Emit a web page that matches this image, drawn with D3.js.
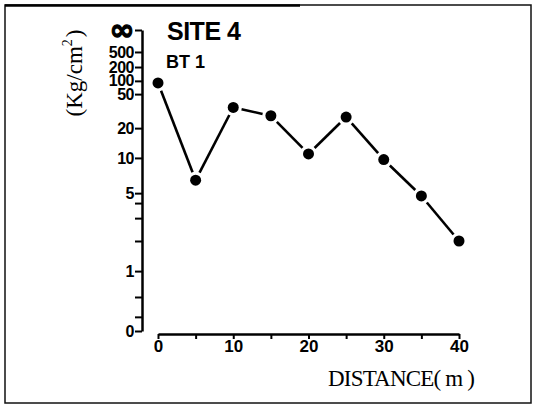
<!DOCTYPE html>
<html>
<head>
<meta charset="utf-8">
<script src="https://cdn.jsdelivr.net/npm/d3@7"></script>
<style>
  body { margin: 0; background: #fff; }
  svg { display: block; }
</style>
</head>
<body>
<div id="chart"></div>
<script>
// data
var distance = [0, 5, 10, 15, 20, 25, 30, 35, 40];
var strength = [90, 6.5, 35, 28, 11, 27, 9.7, 4.7, 2];

// y axis is a non uniform scale, 0 at the bottom and infinity at the top
var yTickValues = [0, 0.2, 0.5, 1, 2, 3, 4, 5, 10, 20, 50, 100, 200, 500, Infinity];
var yTickLabels = ["0", "", "", "1", "", "", "", "5", "10", "20", "50", "100", "200", "500", "\u221e"];
var xTickValues = [0, 5, 10, 15, 20, 25, 30, 35, 40];
var xTickLabels = ["0", "", "10", "", "20", "", "30", "", "40"];

// where each y tick sits on the axis (0 = bottom, 1 = top)
var yTickFrac = [0, 0.047, 0.113, 0.199, 0.299, 0.375, 0.425, 0.458, 0.575, 0.674, 0.787, 0.831, 0.877, 0.927, 1];

var W = 534, H = 405;
var yTop = 30, yBottom = 331, yAxisX = 142;
var xAxisY = 334;

var svg = d3.select("#chart")
  .append("svg")
    .attr("width", W)
    .attr("height", H);

// frame
svg.append("rect")
  .attr("x", 5).attr("y", 5)
  .attr("width", 526).attr("height", 398)
  .attr("fill", "none")
  .attr("stroke", "#111")
  .attr("stroke-width", 1.5);
svg.append("line")
  .attr("x1", 5).attr("x2", 300).attr("y1", 5.5).attr("y2", 5.5)
  .attr("stroke", "#000").attr("stroke-width", 2.5);

// transform values so the piecewise scale is smooth between ticks
function tr(v) { return v === Infinity ? 3.2 : Math.log10(v + 1); }

var y = d3.scaleLinear()
  .domain(yTickValues.map(tr))
  .range(yTickFrac.map(function (f) { return yBottom - f * (yBottom - yTop); }));

var x = d3.scaleLinear()
  .domain([0, 40])
  .range([158, 459]);

// y axis
var yAxis = svg.append("g")
  .attr("transform", "translate(" + yAxisX + ",0)")
  .call(d3.axisLeft(y)
    .tickValues(yTickValues.map(tr))
    .tickSize(7)
    .tickSizeOuter(0)
    .tickPadding(1)
    .tickFormat(function (d, i) { return yTickLabels[i]; }));
yAxis.select(".domain").attr("stroke", "#000").attr("stroke-width", 2.5);
yAxis.selectAll(".tick line").attr("stroke", "#000").attr("stroke-width", 2);
yAxis.selectAll(".tick text")
  .attr("fill", "#000")
  .style("font-family", "'Liberation Sans', Arial, sans-serif")
  .style("font-weight", "bold")
  .style("font-size", "16px")
  .style("letter-spacing", "-0.5px");
yAxis.selectAll(".tick text")
  .filter(function (d, i) { return yTickLabels[i] === "\u221e"; })
  .style("font-family", "'DejaVu Sans', sans-serif")
  .style("font-size", "30px")
  .attr("stroke", "#000")
  .attr("stroke-width", 1.2)
  .attr("dy", "0.3em");

// x axis
var xAxis = svg.append("g")
  .attr("transform", "translate(0," + xAxisY + ")")
  .call(d3.axisBottom(x)
    .tickValues(xTickValues)
    .tickSize(5)
    .tickSizeOuter(0)
    .tickPadding(1)
    .tickFormat(function (d, i) { return xTickLabels[i]; }));
xAxis.select(".domain").attr("stroke", "#000").attr("stroke-width", 2.5);
xAxis.selectAll(".tick line").attr("stroke", "#000").attr("stroke-width", 2);
xAxis.selectAll(".tick text")
  .attr("fill", "#000")
  .style("font-family", "'Liberation Sans', Arial, sans-serif")
  .style("font-weight", "bold")
  .style("font-size", "17px");

// points in pixels
var pts = distance.map(function (d, i) { return [x(d), y(tr(strength[i]))]; });

// line segments with a small gap around each dot
var r = 5.5, gap = 3;
var segs = d3.pairs(pts).map(function (p) {
  var dx = p[1][0] - p[0][0], dy = p[1][1] - p[0][1];
  var len = Math.sqrt(dx * dx + dy * dy);
  var k = (r + gap) / len;
  return [p[0][0] + dx * k, p[0][1] + dy * k, p[1][0] - dx * k, p[1][1] - dy * k];
});

svg.append("g").selectAll("line")
  .data(segs)
  .enter()
  .append("line")
    .attr("x1", function (s) { return s[0]; })
    .attr("y1", function (s) { return s[1]; })
    .attr("x2", function (s) { return s[2]; })
    .attr("y2", function (s) { return s[3]; })
    .attr("stroke", "#000")
    .attr("stroke-width", 2.6);

svg.append("g").selectAll("circle")
  .data(pts)
  .enter()
  .append("circle")
    .attr("cx", function (p) { return p[0]; })
    .attr("cy", function (p) { return p[1]; })
    .attr("r", r)
    .attr("fill", "#000");

// titles
svg.append("text")
  .attr("x", 167).attr("y", 40)
  .style("font-family", "'Liberation Sans', Arial, sans-serif")
  .style("font-weight", "bold")
  .style("font-size", "25px")
  .style("letter-spacing", "-0.5px")
  .text("SITE 4");

svg.append("text")
  .attr("x", 166).attr("y", 68)
  .style("font-family", "'Liberation Sans', Arial, sans-serif")
  .style("font-weight", "bold")
  .style("font-size", "18px")
  .text("BT 1");

// axis titles
var yl = svg.append("text")
  .attr("transform", "translate(82,73) rotate(-90)")
  .attr("text-anchor", "middle")
  .style("font-family", "'Liberation Serif', 'DejaVu Serif', serif")
  .style("font-size", "23px");
yl.append("tspan").text("(Kg/cm");
yl.append("tspan").attr("dy", -10).style("font-size", "14px").text("2");
yl.append("tspan").attr("dy", 10).attr("dx", 2).text(")");

svg.append("text")
  .attr("x", 328).attr("y", 386)
  .attr("textLength", 147)
  .attr("lengthAdjust", "spacing")
  .style("font-family", "'Liberation Serif', 'DejaVu Serif', serif")
  .style("font-size", "23px")
  .text("DISTANCE( m )");
</script>
</body>
</html>
